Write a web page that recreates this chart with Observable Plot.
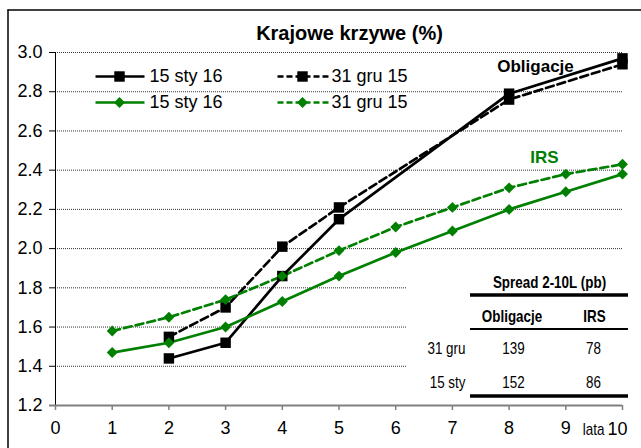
<!DOCTYPE html>
<html>
<head>
<meta charset="utf-8">
<script src="https://cdn.jsdelivr.net/npm/d3@7"></script>
<script src="https://cdn.jsdelivr.net/npm/@observablehq/plot@0.6"></script>
<style>
  html, body { margin: 0; padding: 0; background: #fff; }
  #chart { width: 641px; height: 448px; overflow: hidden; }
</style>
</head>
<body>
<div id="chart"></div>
<script>
// ---- Data ----
const bondTenors = [2, 3, 4, 5, 8, 10];
const bondsJan = [1.44, 1.52, 1.86, 2.15, 2.79, 2.97];   // 15 sty 16
const bondsDec = [1.55, 1.70, 2.01, 2.21, 2.76, 2.94];   // 31 gru 15
const irsTenors = [1, 2, 3, 4, 5, 6, 7, 8, 9, 10];
const irsJan = [1.47, 1.52, 1.60, 1.73, 1.86, 1.98, 2.09, 2.20, 2.29, 2.38]; // 15 sty 16
const irsDec = [1.58, 1.65, 1.74, 1.86, 1.99, 2.11, 2.21, 2.31, 2.38, 2.43]; // 31 gru 15
const xTicks = [0, 1, 2, 3, 4, 5, 6, 7, 8, 9, 10];
const yTicks = [1.2, 1.4, 1.6, 1.8, 2.0, 2.2, 2.4, 2.6, 2.8, 3.0];
const legendLabels = ["15 sty 16", "31 gru 15", "15 sty 16", "31 gru 15"];
const tableTitle = "Spread 2-10L (pb)";
const tableCols = ["Obligacje", "IRS"];
const tableRows = ["31 gru", "15 sty"];
const spreadBonds = [139, 152];
const spreadIRS = [78, 86];

const GREEN = "#008000";
const SANS = "'Liberation Sans', Arial, sans-serif";
const NARROW = "'Liberation Sans Narrow', 'Arial Narrow', 'Liberation Sans', Arial, sans-serif";
const NARROW_SCALE = 0.84;

const series = [
  {tenors: bondTenors, values: bondsDec, color: "#000", dash: "8,4", symbol: "square", r: 5.9},
  {tenors: bondTenors, values: bondsJan, color: "#000", dash: null, symbol: "square", r: 5.9},
  {tenors: irsTenors, values: irsDec, color: GREEN, dash: "8,4", symbol: "diamond2", r: 4.9},
  {tenors: irsTenors, values: irsJan, color: GREEN, dash: null, symbol: "diamond2", r: 4.9}
];
const rows = s => s.tenors.map((t, i) => ({x: t, y: s.values[i]}));

// pixel -> data helpers for annotations (same geometry as the plot)
const ML = 55, MR = 19, MT = 52, MB = 43, W = 641, H = 448;
const X = px => (px - ML) / (W - ML - MR) * 10;
const Y = py => 1.2 + (H - MB - py) / (H - MB - MT) * 1.8;

// legend layout
const legend = legendLabels.map((label, i) => {
  const col = i % 2, row = Math.floor(i / 2);
  const s = [series[1], series[0], series[3], series[2]][i];
  const lx = col === 0 ? [95, 144, 119, 149] : [277, 328, 302, 331];
  return {label, color: s.color, dash: col === 0 ? null : "6,3", symbol: s.symbol, r: s.r,
          x1: X(lx[0]), x2: X(lx[1]), xm: X(lx[2]), xt: X(lx[3]), y: Y(row === 0 ? 76 : 102)};
});

const marks = [];
// gridlines
marks.push(Plot.ruleY(yTicks.filter(d => d > 1.2), {stroke: "#333", strokeDasharray: "1,1", strokeWidth: 1}));
// table background
marks.push(Plot.rect([0], {x1: X(406), x2: X(632), y1: Y(400), y2: Y(258), fill: "white"}));
// axes
marks.push(Plot.axisY({ticks: yTicks, tickFormat: d3.format(".1f"), tickSize: 6, tickPadding: 7, fontSize: 18, fontFamily: SANS, label: null}));
marks.push(Plot.ruleX([0], {y1: Y(410), y2: 3.0, stroke: "#000", strokeWidth: 1}));
marks.push(Plot.axisX({ticks: xTicks, tickFormat: d => d === 10 ? "" : String(d), tickSize: 5, tickPadding: 11, stroke: "#808080", strokeWidth: 1.5, fontSize: 18, fontFamily: SANS, label: null}));
marks.push(Plot.ruleY([1.2], {x1: X(49), x2: 10, stroke: "#808080", strokeWidth: 2}));
marks.push(Plot.text(["10"], {x: X(627), y: Y(434), textAnchor: "end", lineAnchor: "bottom", fontSize: 18, fontFamily: SANS, fill: "#000"}));
marks.push(Plot.text(["lata"], {x: X(604), y: Y(434), textAnchor: "end", lineAnchor: "bottom", fontSize: 16, fontFamily: NARROW, fill: "#000"}));

// series
for (const s of series) {
  marks.push(Plot.line(rows(s), {x: "x", y: "y", stroke: s.color, strokeWidth: 2.7, strokeDasharray: s.dash}));
}
for (const s of series) {
  marks.push(Plot.dot(rows(s), {x: "x", y: "y", symbol: s.symbol, r: s.r, fill: s.color, stroke: "none"}));
}

// legend
for (const d of legend) {
  marks.push(Plot.link([d], {x1: "x1", x2: "x2", y1: "y", y2: "y", stroke: d.color, strokeWidth: 2.7, strokeDasharray: d.dash}));
  marks.push(Plot.dot([d], {x: "xm", y: "y", symbol: d.symbol, r: d.r, fill: d.color, stroke: "none"}));
}
marks.push(Plot.text(legend, {x: "xt", y: "y", text: "label", textAnchor: "start", lineAnchor: "middle", fontSize: 18, fontFamily: SANS, fill: "#000"}));

// title + annotations
marks.push(Plot.text(["Krajowe krzywe (%)"], {x: X(349), y: Y(39.5), lineAnchor: "bottom", fontSize: 20, fontWeight: "bold", fontFamily: SANS, fill: "#000"}));
marks.push(Plot.text(["Obligacje"], {x: X(535), y: Y(71), lineAnchor: "bottom", fontSize: 17, fontWeight: "bold", fontFamily: SANS, fill: "#000"}));
marks.push(Plot.text(["IRS"], {x: X(544), y: Y(162), lineAnchor: "bottom", fontSize: 17, fontWeight: "bold", fontFamily: SANS, fill: GREEN}));

// spread table
const rowY = [353.5, 387];
marks.push(Plot.text([tableTitle], {x: X(549), y: Y(287), lineAnchor: "bottom", fontSize: 16, fontWeight: "bold", fontFamily: NARROW, fill: "#000"}));
marks.push(Plot.ruleY([Y(294.5)], {x1: X(470), x2: X(628), stroke: "#000", strokeWidth: 3.5}));
marks.push(Plot.text(tableCols, {x: (d, i) => X([511.5, 594][i]), y: Y(321), lineAnchor: "bottom", fontSize: 16, fontWeight: "bold", fontFamily: NARROW, fill: "#000"}));
marks.push(Plot.ruleY([Y(328.5)], {x1: X(470), x2: X(628), stroke: "#000", strokeWidth: 2}));
marks.push(Plot.text(tableRows, {x: X(465), y: (d, i) => Y(rowY[i]), textAnchor: "end", lineAnchor: "bottom", fontSize: 16, fontFamily: NARROW, fill: "#000"}));
marks.push(Plot.text(spreadBonds, {x: X(513), y: (d, i) => Y(rowY[i]), text: d => String(d), lineAnchor: "bottom", fontSize: 16, fontFamily: NARROW, fill: "#000"}));
marks.push(Plot.text(spreadIRS, {x: X(593), y: (d, i) => Y(rowY[i]), text: d => String(d), lineAnchor: "bottom", fontSize: 16, fontFamily: NARROW, fill: "#000"}));
marks.push(Plot.ruleY([Y(395.5)], {x1: X(470), x2: X(628), stroke: "#000", strokeWidth: 3.5}));

// outer border (left and top edges)
marks.push(Plot.ruleX([X(7.5)], {y1: Y(9.5), y2: Y(448), stroke: "#000", strokeWidth: 1.5}));
marks.push(Plot.ruleY([Y(9.5)], {x1: X(7.5), x2: X(641), stroke: "#000", strokeWidth: 1.5}));

const chart = Plot.plot({
  width: W, height: H,
  marginLeft: ML, marginRight: MR, marginTop: MT, marginBottom: MB,
  x: {domain: [0, 10]},
  y: {domain: [1.2, 3.0]},
  style: {fontFamily: SANS, fontSize: "18px", background: "white", color: "#000", overflow: "visible"},
  marks
});
document.getElementById("chart").appendChild(chart);

// condense the narrow-font texts horizontally (no narrow face installed)
for (const t of chart.querySelectorAll("text")) {
  let el = t, fam = null;
  while (el && el !== chart) {
    if (el.getAttribute && el.getAttribute("font-family")) { fam = el.getAttribute("font-family"); break; }
    el = el.parentNode;
  }
  if (!fam || !fam.includes("Narrow")) continue;
  const x = +(t.getAttribute("x") || 0), y = +(t.getAttribute("y") || 0);
  t.removeAttribute("x"); t.removeAttribute("y");
  const tr = t.getAttribute("transform") || "";
  t.setAttribute("transform", `${tr} translate(${x},${y}) scale(${NARROW_SCALE},1)`);
}
</script>
</body>
</html>
